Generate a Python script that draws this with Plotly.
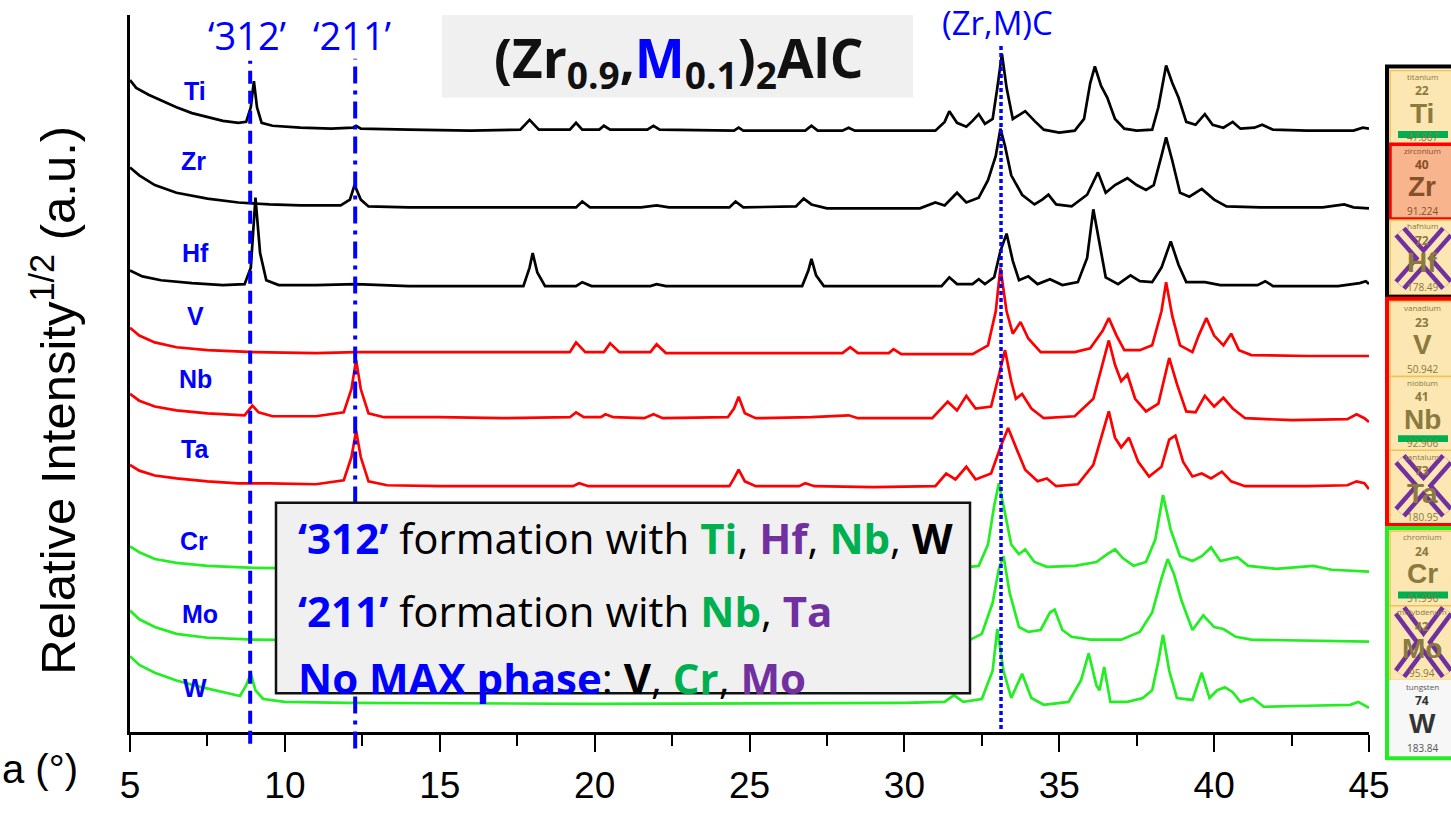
import plotly.graph_objects as go

# XRD patterns of (Zr0.9,M0.1)2AlC, square-root intensity, stacked (arbitrary units)
ti = [(5.0, 671), (5.2, 663), (5.6, 656), (6.0, 650), (6.5, 643), (7.0, 637), (7.5, 633), (8.0, 629),
      (8.5, 627), (8.75, 628), (8.9, 643), (9.0, 670), (9.1, 643), (9.25, 627), (9.6, 624), (10.5, 622),
      (11.5, 621), (12.2, 622), (12.3, 624), (12.45, 621), (14.0, 620), (16.0, 619), (17.6, 620),
      (17.9, 630), (18.2, 620), (19.2, 620), (19.4, 627), (19.6, 620), (20.15, 620), (20.3, 624),
      (20.5, 620), (21.7, 620), (21.9, 624), (22.1, 620), (24.5, 619), (24.65, 622), (24.8, 619),
      (26.8, 619), (27.0, 624), (27.2, 619), (28.0, 619), (28.2, 622), (28.4, 619), (31.0, 619),
      (31.3, 628), (31.45, 639), (31.7, 627), (32.0, 623), (32.2, 629), (32.4, 636), (32.6, 626),
      (32.85, 631), (33.0, 663), (33.15, 698), (33.3, 663), (33.5, 631), (33.7, 635), (33.9, 639),
      (34.2, 629), (34.5, 620), (35.0, 617), (35.5, 619), (35.8, 631), (36.0, 668), (36.15, 685),
      (36.35, 665), (36.55, 653), (36.8, 631), (37.1, 621), (37.5, 619), (38.0, 620), (38.2, 643),
      (38.45, 686), (38.65, 668), (38.85, 653), (39.1, 628), (39.4, 625), (39.7, 636), (39.95, 625),
      (40.3, 622), (40.6, 628), (40.85, 621), (41.3, 622), (41.55, 625), (41.9, 620), (43.0, 619),
      (44.5, 619), (44.8, 622), (45.0, 621)]

zr = [(5.0, 581), (5.3, 573), (5.8, 563), (6.5, 555), (7.5, 549), (8.5, 545), (9.5, 543), (10.5, 542),
      (11.8, 542), (12.1, 548), (12.25, 563), (12.45, 548), (12.7, 541), (14.0, 540), (16.0, 540),
      (18.0, 540), (19.4, 540), (19.6, 546), (19.85, 540), (21.5, 540), (22.0, 542), (22.4, 540),
      (24.35, 540), (24.55, 546), (24.8, 540), (26.5, 541), (26.75, 549), (27.0, 543), (27.5, 539),
      (29.0, 539), (30.5, 539), (31.0, 545), (31.3, 542), (31.7, 555), (32.0, 545), (32.4, 550),
      (32.7, 568), (32.95, 593), (33.1, 621), (33.25, 603), (33.45, 573), (33.8, 553), (34.2, 543),
      (34.45, 548), (34.65, 553), (34.9, 543), (35.4, 541), (35.9, 553), (36.25, 576), (36.5, 555),
      (36.8, 563), (37.2, 570), (37.5, 563), (37.8, 558), (38.05, 563), (38.3, 593), (38.45, 612),
      (38.65, 588), (38.9, 555), (39.2, 551), (39.6, 559), (40.0, 548), (40.4, 541), (41.5, 540),
      (43.5, 540), (44.2, 543), (44.5, 540), (45.0, 539)]

hf = [(5.0, 475), (5.4, 469), (6.0, 465), (7.0, 462), (8.0, 460), (8.7, 461), (8.9, 478), (9.05, 550),
      (9.2, 493), (9.4, 465), (9.8, 460), (11.0, 460), (12.3, 461), (14.0, 459), (16.0, 459),
      (17.7, 459), (17.9, 478), (18.0, 493), (18.15, 473), (18.4, 459), (19.4, 459), (19.6, 463),
      (19.9, 459), (21.8, 459), (22.0, 461), (22.3, 459), (24.8, 459), (26.7, 459), (26.9, 475),
      (27.0, 487), (27.15, 470), (27.4, 459), (29.0, 459), (31.2, 459), (31.45, 468), (31.7, 461),
      (32.2, 461), (32.4, 466), (32.6, 461), (32.9, 468), (33.1, 495), (33.3, 513), (33.5, 485),
      (33.7, 465), (34.0, 469), (34.3, 461), (34.7, 466), (35.1, 460), (35.6, 463), (35.9, 488),
      (36.1, 538), (36.3, 503), (36.5, 468), (36.9, 461), (37.3, 470), (37.6, 464), (38.0, 463),
      (38.3, 478), (38.6, 505), (38.85, 481), (39.1, 463), (39.7, 463), (40.2, 460), (41.4, 460),
      (41.65, 464), (41.9, 459), (44.0, 459), (44.7, 462), (44.9, 464), (45.0, 461)]

v = [(5.0, 416), (5.3, 408), (5.8, 401), (6.5, 396), (7.5, 393), (9.0, 391), (11.0, 390), (12.3, 391),
     (14.0, 391), (16.0, 391), (18.0, 391), (19.2, 391), (19.4, 401), (19.7, 391), (20.3, 391),
     (20.5, 400), (20.8, 391), (21.8, 391), (22.0, 399), (22.3, 390), (25.0, 390), (28.0, 390),
     (28.25, 396), (28.5, 390), (29.5, 390), (29.65, 394), (29.9, 389), (32.2, 389), (32.7, 398),
     (32.95, 433), (33.1, 478), (33.3, 433), (33.5, 410), (33.75, 422), (34.0, 405), (34.4, 391),
     (35.5, 391), (36.0, 395), (36.4, 413), (36.6, 426), (36.85, 408), (37.1, 393), (37.6, 393),
     (38.0, 398), (38.3, 433), (38.45, 463), (38.65, 428), (38.9, 398), (39.3, 391), (39.5, 408),
     (39.75, 426), (40.0, 408), (40.3, 398), (40.55, 410), (40.8, 393), (41.2, 388), (43.0, 387),
     (45.0, 387)]

nb = [(5.0, 348), (5.3, 341), (5.8, 335), (6.5, 331), (7.5, 328), (8.7, 326), (8.95, 336), (9.15, 329),
      (9.6, 325), (11.0, 325), (11.9, 329), (12.15, 353), (12.3, 383), (12.45, 353), (12.7, 328),
      (13.2, 324), (15.0, 324), (17.0, 323), (19.2, 324), (19.4, 329), (19.65, 324), (20.2, 324),
      (20.35, 327), (20.6, 324), (21.6, 323), (21.9, 327), (22.2, 323), (24.3, 324), (24.5, 333),
      (24.65, 345), (24.85, 328), (25.2, 323), (27.0, 324), (28.2, 326), (28.5, 323), (30.9, 323),
      (31.4, 340), (31.7, 331), (32.0, 346), (32.3, 333), (32.8, 335), (33.05, 368), (33.25, 393),
      (33.45, 361), (33.6, 343), (33.8, 348), (34.1, 333), (34.5, 323), (35.5, 325), (36.1, 343),
      (36.45, 383), (36.6, 403), (36.8, 378), (37.0, 361), (37.2, 368), (37.45, 343), (37.8, 330),
      (38.2, 338), (38.55, 385), (38.8, 358), (39.1, 330), (39.4, 329), (39.7, 346), (40.0, 335),
      (40.3, 344), (40.6, 333), (41.0, 323), (42.5, 321), (44.3, 322), (44.6, 327), (44.85, 323),
      (45.0, 319)]

ta = [(5.0, 275), (5.3, 269), (5.8, 264), (6.5, 261), (7.5, 258), (8.5, 256), (9.5, 256), (11.0, 255),
      (11.9, 259), (12.15, 283), (12.3, 310), (12.45, 283), (12.7, 258), (13.3, 254), (15.0, 253),
      (17.0, 253), (19.3, 253), (19.5, 256), (19.8, 253), (22.0, 253), (24.35, 253), (24.5, 261),
      (24.65, 270), (24.85, 258), (25.2, 253), (26.6, 253), (26.8, 256), (27.1, 253), (29.0, 252),
      (31.0, 253), (31.35, 266), (31.65, 260), (32.0, 273), (32.3, 260), (32.8, 266), (33.1, 293),
      (33.35, 313), (33.6, 293), (33.9, 270), (34.3, 258), (34.6, 261), (34.9, 253), (35.6, 255),
      (36.1, 275), (36.45, 313), (36.6, 330), (36.8, 303), (37.0, 293), (37.25, 303), (37.55, 278),
      (37.9, 263), (38.3, 273), (38.55, 301), (38.75, 305), (39.0, 278), (39.3, 263), (39.6, 266),
      (39.9, 261), (40.25, 268), (40.55, 258), (41.0, 253), (43.0, 253), (44.3, 254), (44.6, 258),
      (44.85, 256), (45.0, 250)]

cr = [(5.0, 191), (5.3, 185), (5.8, 178), (6.5, 174), (7.5, 171), (9.0, 169), (12.0, 168), (20.0, 168),
      (30.0, 168), (31.5, 168), (32.4, 171), (32.7, 193), (32.9, 233), (33.05, 256), (33.2, 233),
      (33.45, 193), (33.7, 183), (33.9, 188), (34.2, 175), (34.6, 170), (35.5, 171), (36.2, 175),
      (36.55, 183), (36.8, 188), (37.05, 179), (37.4, 171), (37.8, 175), (38.1, 198), (38.35, 244),
      (38.6, 208), (38.9, 181), (39.3, 176), (39.6, 181), (39.9, 190), (40.2, 176), (40.5, 178),
      (40.75, 180), (41.1, 171), (42.0, 168), (43.2, 171), (43.8, 167), (45.0, 165)]

mo = [(5.0, 125), (5.3, 116), (5.8, 108), (6.5, 101), (7.5, 97), (9.0, 95), (12.0, 94), (20.0, 94),
      (30.0, 94), (32.0, 93), (32.5, 101), (32.85, 133), (33.05, 168), (33.2, 181), (33.4, 143),
      (33.7, 108), (34.0, 103), (34.4, 105), (34.7, 123), (34.85, 126), (35.1, 105), (35.4, 98),
      (36.0, 95), (37.0, 95), (37.6, 103), (38.0, 123), (38.3, 158), (38.5, 178), (38.7, 163),
      (38.95, 135), (39.3, 105), (39.65, 120), (40.0, 108), (40.3, 106), (40.7, 98), (41.2, 95),
      (43.0, 94), (45.0, 93)]

w = [(5.0, 78), (5.3, 69), (5.8, 61), (6.5, 53), (7.2, 47), (8.0, 41), (8.55, 37), (8.75, 48), (8.9, 60),
     (9.05, 43), (9.3, 34), (10.0, 31), (12.0, 30), (20.0, 29), (30.0, 30), (31.3, 31), (31.6, 38),
     (31.9, 31), (32.5, 34), (32.85, 63), (33.0, 106), (33.2, 63), (33.45, 35), (33.8, 60), (34.1, 35),
     (34.5, 28), (35.3, 31), (35.7, 53), (35.95, 81), (36.2, 48), (36.3, 43), (36.45, 67), (36.65, 31),
     (37.2, 31), (37.7, 35), (38.0, 43), (38.2, 73), (38.35, 100), (38.55, 63), (38.8, 35), (39.3, 33),
     (39.6, 61), (39.85, 35), (40.1, 43), (40.35, 46), (40.6, 41), (40.85, 31), (41.25, 35),
     (41.6, 26), (43.0, 27), (44.4, 28), (44.65, 31), (45.0, 25)]

samples = ["Ti", "Zr", "Hf", "V", "Nb", "Ta", "Cr", "Mo", "W"]
patterns = [ti, zr, hf, v, nb, ta, cr, mo, w]
# sample label anchor (2theta, intensity) next to each pattern
label_pos = [(7.1, 660), (7.05, 588), (7.1, 493), (7.1, 428), (7.1, 363), (7.1, 291), (7.05, 197),
             (7.25, 121), (7.1, 45)]

# periodic-table tiles: name, atomic number, symbol, mass
tile_names = ["titanium", "zirconium", "hafnium", "vanadium", "niobium", "tantalum",
              "chromium", "molybdenum", "tungsten"]
tile_numbers = ["22", "40", "72", "23", "41", "73", "24", "42", "74"]
tile_masses = ["47.867", "91.224", "178.49", "50.942", "92.906", "180.95", "51.996", "95.94", "183.84"]

BLACK, RED, GREEN = "#000000", "#ff0000", "#22ee22"
BLUE, LEAF, PURPLE = "#0000ff", "#00b050", "#7030a0"
trace_colors = [BLACK, BLACK, BLACK, RED, RED, RED, GREEN, GREEN, GREEN]

W_PX, H_PX = 1451, 818
L, R, T, B = 130, 82, 15, 65
PW, PH = W_PX - L - R, H_PX - T - B


def fx(p):
    return (p - L) / PW


def fy(p):
    return (H_PX - B - p) / PH


fig = go.Figure()
for pts, col in zip(patterns, trace_colors):
    fig.add_trace(go.Scatter(x=[p[0] for p in pts], y=[p[1] for p in pts], mode="lines",
                             line=dict(color=col, width=2.7), showlegend=False, hoverinfo="skip"))

shapes = []
ann = []

# phase reference lines
shapes.append(dict(type="line", xref="x", yref="paper", x0=8.88, x1=8.88, y0=fy(765), y1=fy(62),
                   line=dict(color=BLUE, width=4, dash="13px,7px"), layer="above"))
shapes.append(dict(type="line", xref="x", yref="paper", x0=12.27, x1=12.27, y0=fy(770), y1=fy(60),
                   line=dict(color=BLUE, width=4, dash="17px,7px,4px,7px"), layer="above"))
shapes.append(dict(type="line", xref="x", yref="paper", x0=33.12, x1=33.12, y0=fy(750), y1=fy(44),
                   line=dict(color=BLUE, width=3.5, dash="4px,3px"), layer="above"))
ann.append(dict(x=fx(247), y=fy(36), text="‘312’", font=dict(size=38, color=BLUE)))
ann.append(dict(x=fx(352), y=fy(36), text="‘211’", font=dict(size=38, color=BLUE)))
ann.append(dict(x=fx(997), y=fy(23), text="(Zr,M)C", font=dict(size=33, color=BLUE)))

# compound title
shapes.append(dict(type="rect", xref="paper", yref="paper", x0=fx(442), x1=fx(913), y0=fy(100), y1=fy(15),
                   fillcolor="#f0f0f0", line=dict(width=0), layer="above"))
ann.append(dict(x=fx(679), y=fy(62),
                text="<b>(Zr<sub>0.9</sub>,<span style='color:#0000ff'>M</span><sub>0.1</sub>)<sub>2</sub>AlC</b>",
                font=dict(size=53, color="#111111")))

# summary box
shapes.append(dict(type="rect", xref="paper", yref="paper", x0=fx(276), x1=fx(970), y0=fy(713), y1=fy(517),
                   fillcolor="#f0f0f0", line=dict(color="#111111", width=2.5), layer="above"))


def c(txt, col):
    return f"<b><span style='color:{col}'>{txt}</span></b>"


lines = [
    c("‘312’", BLUE) + " formation with " + c("Ti", LEAF) + ", " + c("Hf", PURPLE) + ", " + c("Nb", LEAF)
    + ", " + c("W", "#000000"),
    c("‘211’", BLUE) + " formation with " + c("Nb", LEAF) + ", " + c("Ta", PURPLE),
    c("No MAX phase", BLUE) + ": " + c("V", "#000000") + ", " + c("Cr", LEAF) + ", " + c("Mo", PURPLE),
]
for txt, yy in zip(lines, [553, 628, 697]):
    ann.append(dict(x=fx(296), y=fy(yy), text=txt, xanchor="left", font=dict(size=42, color="#000000")))

# sample labels
for name, (lx, ly) in zip(samples, label_pos):
    ann.append(dict(x=lx, y=ly, xref="x", yref="y", text=f"<b>{name}</b>",
                    font=dict(size=25, color=BLUE, family="Liberation Sans, Arial")))

# axis titles
ann.append(dict(x=fx(54), y=fy(412), text="Relative Intensity<sup>1/2</sup> (a.u.)", textangle=-90,
                font=dict(size=49, color="#000000", family="Liberation Sans, Arial")))
ann.append(dict(x=fx(0), y=fy(791), text="a (°)", xanchor="left",
                font=dict(size=40, color="#000000", family="Liberation Sans, Arial")))

# periodic table strip
tile_tops = [72, 148, 226, 310, 387, 463, 546, 623, 700]
TILE_H = 77
TX0, TX1 = 1390, 1460
for i, top in enumerate(tile_tops):
    fill, edge, sym_col, ew = "#fce6b2", "#f2c14e", "#8a7a3e", 1.5
    if tile_names[i] == "zirconium":
        fill, edge, sym_col, ew = "#f8b48c", "#ff0000", "#85502a", 3.5
    if tile_names[i] == "tungsten":
        fill, edge, sym_col, ew = "#f7f7f7", "#f7f7f7", "#333333", 1
    shapes.append(dict(type="rect", xref="paper", yref="paper", x0=fx(TX0), x1=fx(TX1),
                       y0=fy(top + TILE_H), y1=fy(top), fillcolor=fill, line=dict(color=edge, width=ew),
                       layer="above"))
    cx = fx(1422)
    small = sym_col if tile_names[i] != "tungsten" else "#555555"
    ann.append(dict(x=cx, y=fy(top + 6), text=tile_names[i], borderpad=0,
                    font=dict(size=8, color=small)))
    ann.append(dict(x=cx, y=fy(top + 21), text=f"<b>{tile_numbers[i]}</b>", borderpad=0,
                    font=dict(size=12, color=sym_col)))
    ann.append(dict(x=cx, y=fy(top + 44), text=f"<b>{samples[i]}</b>", borderpad=0,
                    font=dict(size=28, color=sym_col, family="Liberation Sans, Arial")))
    ann.append(dict(x=cx, y=fy(top + 69), text=tile_masses[i], borderpad=0,
                    font=dict(size=10, color=small)))

# group frames
for y0, y1, col in [(68, 305, "#000000"), (307, 540, "#ff0000"), (543, 780, "#22ee22")]:
    shapes.append(dict(type="rect", xref="paper", yref="paper", x0=fx(1387), x1=fx(1462),
                       y0=fy(y1), y1=fy(y0), line=dict(color=col, width=4), layer="above"))

# green bars: 312 formers
for yb in [138, 451, 612]:
    shapes.append(dict(type="rect", xref="paper", yref="paper", x0=fx(1398), x1=fx(1448),
                       y0=fy(yb + 3.5), y1=fy(yb - 3.5), fillcolor=LEAF, line=dict(width=0), layer="above"))

# purple crosses
for (yt, yb) in [(238, 293), (472, 527), (628, 693)]:
    for wdt, col in [(15, PURPLE), (6, "#fce6b2")]:
        for (a0, a1) in [((1400, yt), (1447, yb)), ((1447, yt), (1400, yb))]:
            shapes.append(dict(type="line", xref="paper", yref="paper", x0=fx(a0[0]), y0=fy(a0[1]),
                               x1=fx(a1[0]), y1=fy(a1[1]), line=dict(color=col, width=wdt), layer="above"))

for a in ann:
    a.setdefault("xref", "paper")
    a.setdefault("yref", "paper")
    a.setdefault("showarrow", False)
    a.setdefault("xanchor", "center")
    a.setdefault("yanchor", "middle")
    f = a["font"]
    f.setdefault("family", "Open Sans, Noto Sans, sans-serif")

fig.update_layout(
    width=W_PX, height=H_PX, autosize=False,
    margin=dict(l=L, r=R, t=T, b=B, pad=0),
    paper_bgcolor="white", plot_bgcolor="white",
    shapes=shapes, annotations=ann,
    xaxis=dict(range=[5, 45], dtick=5, tick0=5, showgrid=False, zeroline=False,
               showline=True, linecolor="black", linewidth=2.5,
               ticks="outside", ticklen=17, tickwidth=2, tickcolor="black",
               minor=dict(dtick=2.5, ticklen=11, tickwidth=2, tickcolor="black", ticks="outside"),
               ticklabelstandoff=2,
               tickfont=dict(size=37, color="black", family="Liberation Sans Narrow, Liberation Sans, Arial")),
    yaxis=dict(range=[0, 738], showgrid=False, zeroline=False, showticklabels=False, ticks="",
               showline=True, linecolor="black", linewidth=2.5),
)

fig.write_html("out.html")
